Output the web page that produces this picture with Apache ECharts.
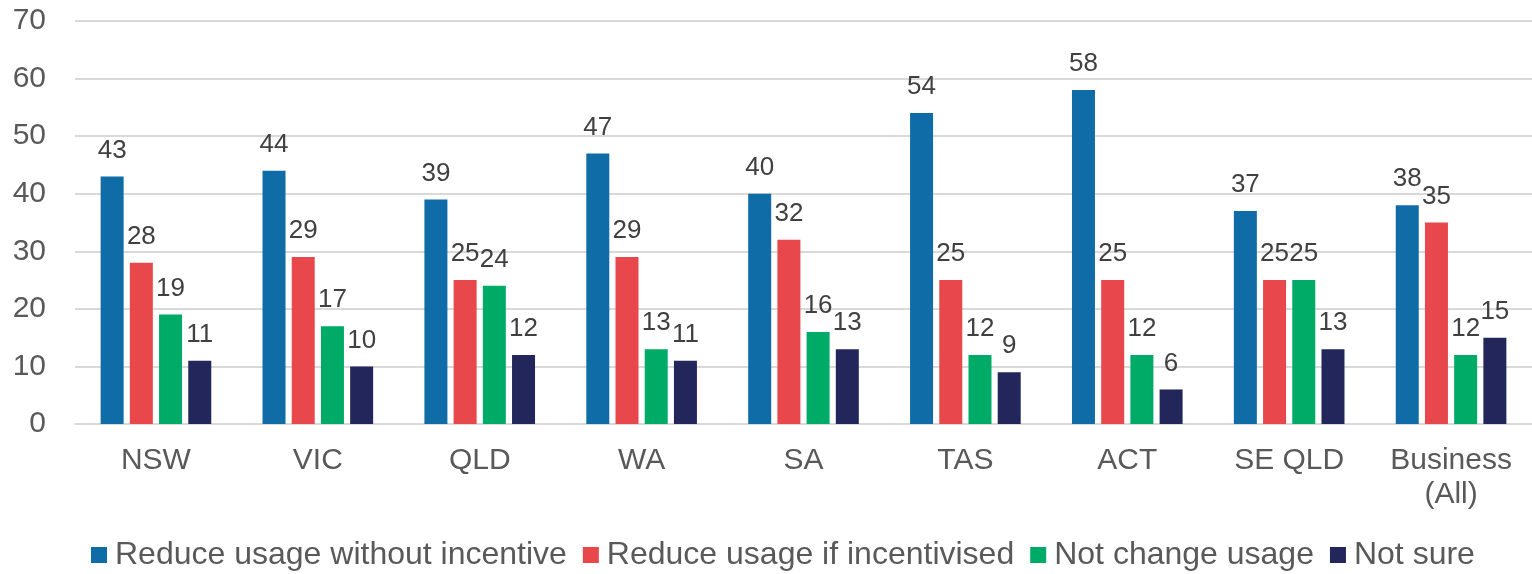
<!DOCTYPE html>
<html>
<head>
<meta charset="utf-8">
<script src="https://cdn.jsdelivr.net/npm/echarts@6/dist/echarts.min.js"></script>
<style>
  html, body { margin: 0; padding: 0; background: #fff; }
  #chart { width: 1532px; height: 574px; }
</style>
</head>
<body>
<div id="chart"></div>
<script>
const categories = ["NSW", "VIC", "QLD", "WA", "SA", "TAS", "ACT", "SE QLD", "Business\n(All)"];
const reduceWithout = [43, 44, 39, 47, 40, 54, 58, 37, 38];
const reduceIncentivised = [28, 29, 25, 29, 32, 25, 25, 25, 35];
const notChange = [19, 17, 24, 13, 16, 12, 12, 25, 12];
const notSure = [11, 10, 12, 11, 13, 9, 6, 13, 15];
const yTicks = [0, 10, 20, 30, 40, 50, 60, 70];

const seriesDefs = [
  { name: "Reduce usage without incentive", data: reduceWithout, color: "#0f6ca6" },
  { name: "Reduce usage if incentivised", data: reduceIncentivised, color: "#e8474c" },
  { name: "Not change usage", data: notChange, color: "#00aa67" },
  { name: "Not sure", data: notSure, color: "#22265a" },
];

const font = "'Liberation Sans', Arial, sans-serif";
const chart = echarts.init(document.getElementById("chart"), null, { renderer: "canvas" });

chart.setOption({
  animation: false,
  textStyle: { fontFamily: font },
  grid: { left: 75, right: 0, top: 21, bottom: 150, containLabel: false },
  legend: {
    bottom: -2,
    left: 86,
    itemWidth: 16,
    itemHeight: 16,
    itemGap: 16,
    icon: "rect",
    textStyle: { color: "#595959", fontSize: 32, fontFamily: font, padding: [0, 0, 0, 3] },
    data: seriesDefs.map((s) => s.name),
  },
  xAxis: {
    type: "category",
    data: categories,
    axisLine: { lineStyle: { color: "#d9d9d9", width: 2 } },
    axisTick: { show: false },
    axisLabel: { color: "#595959", fontSize: 30, fontFamily: font, margin: 20, lineHeight: 34 },
  },
  yAxis: {
    type: "value",
    min: yTicks[0],
    max: yTicks[yTicks.length - 1],
    interval: 10,
    axisLine: { show: false },
    axisTick: { show: false },
    axisLabel: { color: "#595959", fontSize: 30, fontFamily: font, margin: 29 },
    splitLine: { lineStyle: { color: "#d9d9d9", width: 2 } },
  },
  series: seriesDefs.map((s) => ({
    name: s.name,
    type: "bar",
    data: s.data,
    barWidth: 23,
    barGap: "27%",
    itemStyle: { color: s.color },
    label: {
      show: true,
      position: "top",
      distance: 13,
      color: "#404040",
      fontSize: 26,
      fontFamily: font,
    },
  })),
});
</script>
</body>
</html>
